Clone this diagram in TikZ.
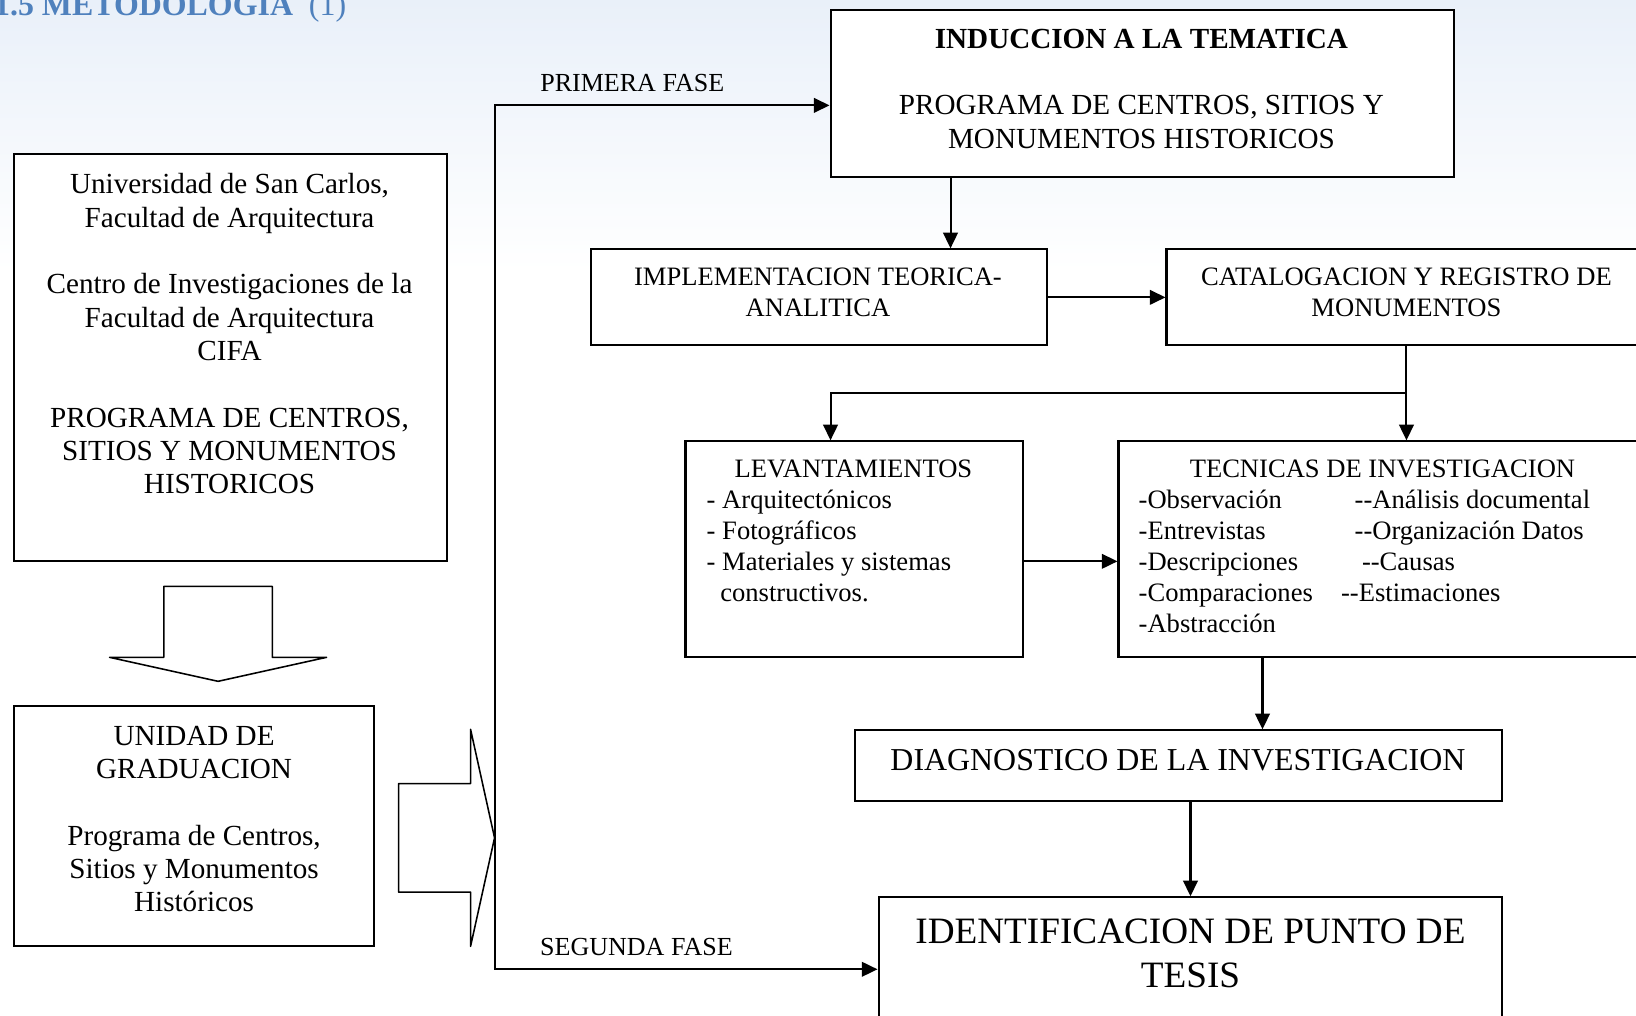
\documentclass[tikz,border=0pt]{standalone}
\usepackage{fontspec}
\setmainfont{Liberation Serif}
\usetikzlibrary{arrows.meta,fit,calc}
\definecolor{titleblue}{RGB}{79,129,189}
\definecolor{bgblue}{RGB}{233,240,249}
\tikzset{
	box/.style={draw, line width=1.1pt, fill=white, inner sep=0pt},
	txt/.style={inner sep=0pt, align=center},
	arr/.style={line width=1.1pt, -{Triangle[length=3mm,width=2.8mm]}},
	arrboth/.style={line width=1.1pt, {Triangle[length=3mm,width=2.8mm]}-{Triangle[length=3mm,width=2.8mm]}},
	bigarrow/.style={draw, line width=0.85pt, line join=round, fill=white},
	fA/.style={font={\fontsize{15.9}{18.2}\selectfont}},
	fB/.style={font={\fontsize{14.5}{16.9}\selectfont}},
	fC/.style={font={\fontsize{14.2}{16.5}\selectfont}},
	fD/.style={font={\fontsize{17.4}{20}\selectfont}},
	fE/.style={font={\fontsize{20.3}{23.9}\selectfont}}
}
\begin{document}
\begin{tikzpicture}[x=0.02cm,y=-0.02cm]
			%%%%% START %%%%%
			\useasboundingbox (0,0) rectangle (1568,973);
			\clip (0,0) rectangle (1568,973);
			\shade[top color=bgblue, bottom color=white] (0,0) rectangle (1568,260);
			
			\node[anchor=base west, inner sep=0pt, text=titleblue, font={\fontsize{17.4}{20}\selectfont}] (titulo) at (-6,15) {\textbf{1.5 METODOLOGIA}\ \ (1)};
			
			%%%%% cajas
			\node[box, fit={(13,148) (428,538)}] (usac) {};
			\node[box, fit={(13,677) (358,907)}] (unidad) {};
			\node[box, fit={(796,10) (1394,170)}] (induc) {};
			\node[box, fit={(566,239) (1003,331)}] (impl) {};
			\node[box, fit={(1118,239) (1578,331)}] (catal) {};
			\node[box, fit={(657,423) (980,630)}] (levant) {};
			\node[box, fit={(1072,423) (1578,630)}] (tecn) {};
			\node[box, fit={(819,700) (1440,768)}] (diag) {};
			\node[box, fit={(842,860) (1440,990)}] (ident) {};
			
			%%%%% flechas gruesas
			\draw[bigarrow] (157,562) -- (261,562) -- (261,630) -- (313,630) -- (209,653) -- (105,630) -- (157,630) -- cycle;
			\draw[bigarrow] (382,751) -- (451,751) -- (451,699) -- (474,803) -- (451,907) -- (451,855) -- (382,855) -- cycle;
			
			%%%%% textos
			\node[txt, fA] (usac-t) at (220,320) {Universidad de San Carlos,\\Facultad de Arquitectura\\[18.2pt]Centro de Investigaciones de la\\Facultad de Arquitectura\\CIFA\\[18.2pt]PROGRAMA DE CENTROS,\\SITIOS Y MONUMENTOS\\HISTORICOS};
			\node[txt, fA] (unidad-t) at (186,785) {UNIDAD DE\\GRADUACION\\[18.2pt]Programa de Centros,\\Sitios y Monumentos\\Históricos};
			\node[txt, fA] (induc-t) at (1094,85) {\textbf{INDUCCION A LA TEMATICA}\\[18.2pt]PROGRAMA DE CENTROS, SITIOS Y\\MONUMENTOS HISTORICOS};
			\node[txt, fB] (impl-t) at (784,280) {IMPLEMENTACION TEORICA-\\ANALITICA};
			\node[txt, fB] (catal-t) at (1348,280) {CATALOGACION Y REGISTRO DE\\MONUMENTOS};
			\node[txt, fB] (levant-t) at (818,449) {LEVANTAMIENTOS};
			\node[txt, fB, align=left, anchor=west] (levant-l) at (677,523) {- Arquitectónicos\\- Fotográficos\\- Materiales y sistemas\\\hspace*{7.4pt}constructivos.};
			\node[txt, fB] (tecn-t) at (1325,449) {TECNICAS DE INVESTIGACION};
			\node[txt, fB, align=left, anchor=west] (tecn-a) at (1091,538) {-Observación\\-Entrevistas\\-Descripciones\\-Comparaciones\\-Abstracción};
			\node[txt, fB, align=left, anchor=west] (tecn-b) at (1285,523) {\hspace*{7.4pt}-{}-Análisis documental\\\hspace*{7.4pt}-{}-Organización Datos\\\hspace*{11.4pt}-{}-Causas\\-{}-Estimaciones};
			\node[txt, fD] (diag-t) at (1129,729) {DIAGNOSTICO DE LA INVESTIGACION};
			\node[txt, fE] (ident-t) at (1141,914) {IDENTIFICACION DE PUNTO DE\\TESIS};
			\node[txt, fC] (fase1) at (606,80) {PRIMERA FASE};
			\node[txt, fC] (fase2) at (610,908) {SEGUNDA FASE};
			
			%%%%% conectores
			\coordinate (f1) at (474,101);
			\coordinate (f2) at (474,929);
			\draw[arrboth] (induc.west |- f1) -- (f1) -- (f2) -- (ident.west |- f2);
			
			\coordinate (c1) at (911,0);
			\draw[arr] (induc.south -| c1) -- (impl.north -| c1);
			\draw[arr] (impl.east) -- (catal.west);
			\coordinate (c2) at (796,377);
			\draw[arr] (catal.south) -- (tecn.north -| catal.south);
			\draw[arr] (catal.south |- c2) -- (c2) -- (levant.north -| c2);
			\coordinate (c3) at (0,538);
			\draw[arr] (levant.east |- c3) -- (tecn.west |- c3);
			\coordinate (c4) at (1210,0);
			\draw[arr] (tecn.south -| c4) -- (diag.north -| c4);
			\draw[arr] (diag.south -| ident.north) -- (ident.north);
			
			%%%%% END %%%%%
\end{tikzpicture}
\end{document}
